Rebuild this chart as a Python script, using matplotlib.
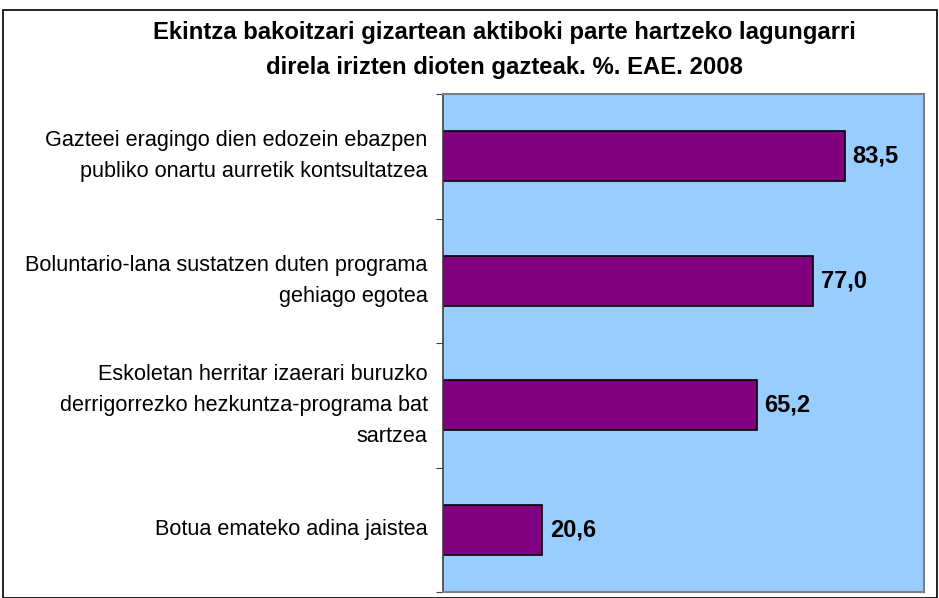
import matplotlib.pyplot as plt
from matplotlib.patches import Rectangle

plt.rcParams['font.family'] = ['Liberation Sans', 'DejaVu Sans']

# Datuak
labels = [
    'Gazteei eragingo dien edozein ebazpen\npubliko onartu aurretik kontsultatzea',
    'Boluntario-lana sustatzen duten programa\ngehiago egotea',
    'Eskoletan herritar izaerari buruzko\nderrigorrezko hezkuntza-programa bat\nsartzea',
    'Botua emateko adina jaistea',
]
values = [83.5, 77.0, 65.2, 20.6]
value_text = ['83,5', '77,0', '65,2', '20,6']

W, H = 939, 598
fig = plt.figure(figsize=(W / 100, H / 100), dpi=100)

# kanpoko markoa
fig.patches.append(Rectangle((3 / W, 0), (W - 5) / W, (H - 10) / H,
                             transform=fig.transFigure, fill=False,
                             edgecolor='black', linewidth=1.2))

left, right, top, bottom = 443, 924, 94, 592
ax = fig.add_axes([left / W, 1 - bottom / H, (right - left) / W, (bottom - top) / H])
ax.set_facecolor('#99ccff')

y = list(range(len(values)))
ax.barh(y, values, height=0.4, color='#800080', edgecolor='black', linewidth=1.2)
ax.set_xlim(0, 100)
ax.set_ylim(len(values) - 0.5, -0.5)

for i, (v, t) in enumerate(zip(values, value_text)):
    ax.text(v + 1.6, i, t, va='center', ha='left', fontsize=17, fontweight='bold')

ax.set_xticks([])
ax.set_yticks([i - 0.5 for i in range(len(values) + 1)], minor=False)
ax.set_yticklabels([])
ax.tick_params(axis='y', direction='out', length=5, color='#404040')
for i, lab in enumerate(labels):
    ax.text(-0.032, i, lab, transform=ax.get_yaxis_transform(), ha='right', va='center',
            fontsize=15.6, linespacing=1.62)

for s in ['top', 'right', 'bottom']:
    ax.spines[s].set_color('#808080')
    ax.spines[s].set_linewidth(1.5)
ax.spines['left'].set_color('#404040')
ax.spines['left'].set_linewidth(1.2)

fig.text(504 / W, 1 - 50 / H,
         'Ekintza bakoitzari gizartean aktiboki parte hartzeko lagungarri\n'
         'direla irizten dioten gazteak. %. EAE. 2008',
         ha='center', va='center', fontsize=17.2, fontweight='bold', linespacing=1.7)

plt.savefig('out.png', dpi=100)
